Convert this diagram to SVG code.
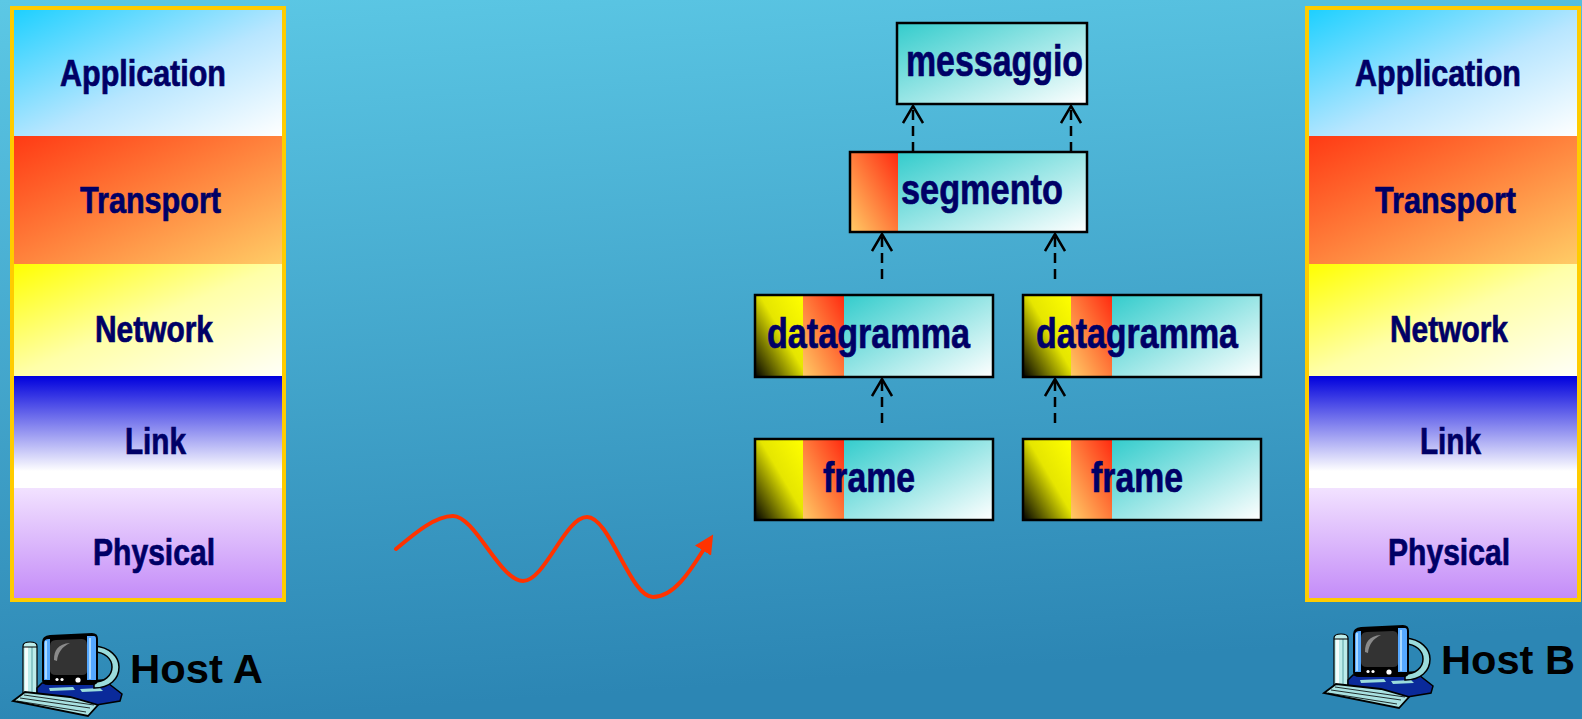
<svg xmlns="http://www.w3.org/2000/svg" xmlns:xlink="http://www.w3.org/1999/xlink" width="1582" height="719" viewBox="0 0 1582 719">
<style>
.lbl{font-family:"Liberation Sans",Arial,Helvetica,sans-serif;font-weight:bold;fill:#000066;stroke:#000066;stroke-width:0.7;}
.host{font-family:"Liberation Sans",Arial,Helvetica,sans-serif;font-weight:bold;fill:#000000;font-size:41px;}
.frameBorder{fill:none;stroke:#FFCC00;stroke-width:4;}
.pkt{fill:none;stroke:#000;stroke-width:2.5;}
.dash{fill:none;stroke:#000;stroke-width:2.5;stroke-dasharray:10 6;marker-end:url(#openArrow);}
</style>
<defs>
  <linearGradient id="bg" x1="0" y1="0" x2="0.15" y2="1">
    <stop offset="0" stop-color="#5CC8E5"/>
    <stop offset="1" stop-color="#2C86B4"/>
  </linearGradient>
  <linearGradient id="gApp" x1="0" y1="0" x2="1" y2="1">
    <stop offset="0" stop-color="#1ED0FF"/>
    <stop offset="0.55" stop-color="#B8E6FF"/>
    <stop offset="1" stop-color="#FFFFFF"/>
  </linearGradient>
  <linearGradient id="gTra" x1="0" y1="0" x2="1" y2="1">
    <stop offset="0" stop-color="#FF3A14"/>
    <stop offset="1" stop-color="#FFCC66"/>
  </linearGradient>
  <linearGradient id="gNet" x1="0" y1="0" x2="1" y2="1">
    <stop offset="0" stop-color="#FFFF00"/>
    <stop offset="0.5" stop-color="#FFFFA8"/>
    <stop offset="1" stop-color="#FFFFF8"/>
  </linearGradient>
  <linearGradient id="gLink" x1="0" y1="0" x2="0" y2="1">
    <stop offset="0" stop-color="#0000DD"/>
    <stop offset="0.85" stop-color="#FFFFFF"/>
    <stop offset="1" stop-color="#FFFFFF"/>
  </linearGradient>
  <linearGradient id="gPhy" x1="0" y1="0" x2="0" y2="1">
    <stop offset="0" stop-color="#F2E2FF"/>
    <stop offset="1" stop-color="#C48CF8"/>
  </linearGradient>
  <linearGradient id="gTeal" x1="0" y1="0" x2="1" y2="1">
    <stop offset="0" stop-color="#33CCCC"/>
    <stop offset="1" stop-color="#FFFFFF"/>
  </linearGradient>
  <linearGradient id="gOrange" x1="1" y1="0" x2="0" y2="1">
    <stop offset="0" stop-color="#FF2A10"/>
    <stop offset="1" stop-color="#FFCC66"/>
  </linearGradient>
  <linearGradient id="gYel" x1="1" y1="0" x2="0" y2="1">
    <stop offset="0" stop-color="#FFFF00"/>
    <stop offset="0.45" stop-color="#E6E600"/>
    <stop offset="1" stop-color="#000000"/>
  </linearGradient>
  <marker id="openArrow" viewBox="0 0 20 22" refX="18" refY="11" markerWidth="20" markerHeight="22" orient="auto" markerUnits="userSpaceOnUse">
    <path d="M1,1 L18,11 L1,21" fill="none" stroke="#000" stroke-width="2.5" stroke-dasharray="none"/>
  </marker>
  <marker id="redArrow" viewBox="0 0 10 10" refX="1" refY="5" markerWidth="19" markerHeight="19" orient="auto" markerUnits="userSpaceOnUse">
    <path d="M0,0 L10,5 L0,10 Z" fill="#FF3300"/>
  </marker>
  <g id="pc">
    <!-- tower -->
    <path d="M23,646 Q23,642 30,642 Q37,642 37,646 L37,697 L23,697 Z" fill="#BDEDEB" stroke="#000" stroke-width="1.2"/>
    <rect x="25" y="647" width="3" height="49" fill="#FFFFFF" opacity="0.85"/>
    <rect x="31" y="647" width="2" height="49" fill="#8CC8C8"/>
    <line x1="23" y1="647" x2="37" y2="647" stroke="#000" stroke-width="1"/>
    <!-- base -->
    <path d="M37,688 L42,683 L104,680 L122,694 L120,701 L78,708 L37,700 Z" fill="#0A2A9A" stroke="#000" stroke-width="1.5"/>
    <path d="M49,688 L73,687 L75,690 L50,691 Z" fill="#9ADCDC"/>
    <path d="M80,689 L100,688 L103,691 L82,692 Z" fill="#9ADCDC"/>
    <!-- back housing ring -->
    <path d="M94,646 C110,647 119,657 119,667 C119,679 110,688 94,688 L94,682 C104,682 112,676 112,667 C112,659 105,652 94,652 Z" fill="#9ADCDC" stroke="#000" stroke-width="1.5"/>
    <!-- monitor -->
    <path d="M42,642 Q42,636 50,635 L92,633 Q98,633 98,639 L98,680 Q98,685 92,685 L48,685 Q42,685 42,680 Z" fill="#000"/>
    <path d="M44,643 Q44,639 49,639 L50,639 L50,680 L44,680 Z" fill="#55A8FF"/>
    <rect x="45" y="641" width="2" height="38" fill="#A8D8FF"/>
    <path d="M87,636 L94,636 Q96,636 96,639 L96,680 L87,680 Z" fill="#55A8FF"/>
    <rect x="89" y="638" width="2" height="41" fill="#A8D8FF"/>
    <path d="M50,646 Q50,640 56,640 L82,639 Q87,639 87,645 L87,671 Q87,675 82,675 L56,675 Q50,675 50,670 Z" fill="#333333"/>
    <path d="M54,660 C54,650 58,644 70,643 C62,647 58,652 57,661 Z" fill="#8A8A8A"/>
    <circle cx="57" cy="679.5" r="1.6" fill="#fff"/>
    <circle cx="62" cy="679.5" r="1.6" fill="#fff"/>
    <circle cx="78" cy="680" r="2.6" fill="#fff"/>
    <!-- keyboard -->
    <path d="M13,701 L25,692 L70,697 L98,705 L88,716 Z" fill="#A9E2E2" stroke="#000" stroke-width="1.8"/>
    <path d="M20,698 L90,708 M24,695 L94,705 M17,701 L86,712" stroke="#000" stroke-width="0.8"/>
  </g>
</defs>
<rect x="0" y="0" width="1582" height="719" fill="url(#bg)"/>

<g id="stackA">
  <rect x="14" y="10" width="268" height="126" fill="url(#gApp)"/>
  <rect x="14" y="136" width="268" height="128" fill="url(#gTra)"/>
  <rect x="14" y="264" width="268" height="112" fill="url(#gNet)"/>
  <rect x="14" y="376" width="268" height="112" fill="url(#gLink)"/>
  <rect x="14" y="488" width="268" height="110" fill="url(#gPhy)"/>
  <rect class="frameBorder" x="12" y="8" width="272" height="592"/>
  <text class="lbl" font-size="36" x="60" y="86" textLength="166" lengthAdjust="spacingAndGlyphs">Application</text>
  <text class="lbl" font-size="36" x="80" y="213" textLength="141" lengthAdjust="spacingAndGlyphs">Transport</text>
  <text class="lbl" font-size="36" x="95" y="342" textLength="118" lengthAdjust="spacingAndGlyphs">Network</text>
  <text class="lbl" font-size="36" x="125" y="454" textLength="61" lengthAdjust="spacingAndGlyphs">Link</text>
  <text class="lbl" font-size="36" x="93" y="565" textLength="122" lengthAdjust="spacingAndGlyphs">Physical</text>
</g>

<g id="stackB">
  <rect x="1309" y="10" width="268" height="126" fill="url(#gApp)"/>
  <rect x="1309" y="136" width="268" height="128" fill="url(#gTra)"/>
  <rect x="1309" y="264" width="268" height="112" fill="url(#gNet)"/>
  <rect x="1309" y="376" width="268" height="112" fill="url(#gLink)"/>
  <rect x="1309" y="488" width="268" height="110" fill="url(#gPhy)"/>
  <rect class="frameBorder" x="1307" y="8" width="272" height="592"/>
  <text class="lbl" font-size="36" x="1355" y="86" textLength="166" lengthAdjust="spacingAndGlyphs">Application</text>
  <text class="lbl" font-size="36" x="1375" y="213" textLength="141" lengthAdjust="spacingAndGlyphs">Transport</text>
  <text class="lbl" font-size="36" x="1390" y="342" textLength="118" lengthAdjust="spacingAndGlyphs">Network</text>
  <text class="lbl" font-size="36" x="1420" y="454" textLength="61" lengthAdjust="spacingAndGlyphs">Link</text>
  <text class="lbl" font-size="36" x="1388" y="565" textLength="122" lengthAdjust="spacingAndGlyphs">Physical</text>
</g>

<g id="hostA">
  <use xlink:href="#pc" href="#pc"/>
  <text class="host" x="130" y="683" textLength="133" lengthAdjust="spacingAndGlyphs">Host A</text>
</g>
<g id="hostB">
  <use xlink:href="#pc" href="#pc" transform="translate(1311,-8)"/>
  <text class="host" x="1441" y="674" textLength="134" lengthAdjust="spacingAndGlyphs">Host B</text>
</g>

<g id="messaggio">
  <rect x="897" y="23" width="190" height="81" fill="url(#gTeal)"/>
  <rect class="pkt" x="897" y="23" width="190" height="81"/>
  <text class="lbl" font-size="45" x="906" y="76" textLength="177" lengthAdjust="spacingAndGlyphs">messaggio</text>
</g>
<g id="segmento">
  <rect x="898" y="152" width="189" height="80" fill="url(#gTeal)"/>
  <rect x="850" y="152" width="48" height="80" fill="url(#gOrange)"/>
  <rect class="pkt" x="850" y="152" width="237" height="80"/>
  <text class="lbl" font-size="42" x="901" y="204" textLength="162" lengthAdjust="spacingAndGlyphs">segmento</text>
</g>
<g id="datagramma1">
  <rect x="844" y="295" width="149" height="82" fill="url(#gTeal)"/>
  <rect x="803" y="295" width="41" height="82" fill="url(#gOrange)"/>
  <rect x="755" y="295" width="48" height="82" fill="url(#gYel)"/>
  <rect class="pkt" x="755" y="295" width="238" height="82"/>
  <text class="lbl" font-size="42" x="767" y="348" textLength="203" lengthAdjust="spacingAndGlyphs">datagramma</text>
</g>
<g id="datagramma2">
  <rect x="1112" y="295" width="149" height="82" fill="url(#gTeal)"/>
  <rect x="1071" y="295" width="41" height="82" fill="url(#gOrange)"/>
  <rect x="1023" y="295" width="48" height="82" fill="url(#gYel)"/>
  <rect class="pkt" x="1023" y="295" width="238" height="82"/>
  <text class="lbl" font-size="42" x="1036" y="348" textLength="202" lengthAdjust="spacingAndGlyphs">datagramma</text>
</g>
<g id="frame1">
  <rect x="844" y="439" width="149" height="81" fill="url(#gTeal)"/>
  <rect x="803" y="439" width="41" height="81" fill="url(#gOrange)"/>
  <rect x="755" y="439" width="48" height="81" fill="url(#gYel)"/>
  <rect class="pkt" x="755" y="439" width="238" height="81"/>
  <text class="lbl" font-size="42" x="823" y="492" textLength="92" lengthAdjust="spacingAndGlyphs">frame</text>
</g>
<g id="frame2">
  <rect x="1112" y="439" width="149" height="81" fill="url(#gTeal)"/>
  <rect x="1071" y="439" width="41" height="81" fill="url(#gOrange)"/>
  <rect x="1023" y="439" width="48" height="81" fill="url(#gYel)"/>
  <rect class="pkt" x="1023" y="439" width="238" height="81"/>
  <text class="lbl" font-size="42" x="1091" y="492" textLength="92" lengthAdjust="spacingAndGlyphs">frame</text>
</g>

<g id="connectors">
  <path class="dash" d="M913,152 L913,106"/>
  <path class="dash" d="M1071,152 L1071,106"/>
  <path class="dash" d="M882,279 L882,234"/>
  <path class="dash" d="M1055,279 L1055,234"/>
  <path class="dash" d="M882,423 L882,379"/>
  <path class="dash" d="M1055,423 L1055,379"/>
  <path d="M396,549 C415,533 435,516 453,516 C475,516 500,581 523,581 C545,581 565,517 587,517 C610,517 630,597 653,597 C675,597 692,568 704,549" fill="none" stroke="#FF3300" stroke-width="4" stroke-linecap="round" marker-end="url(#redArrow)"/>
</g>
</svg>
